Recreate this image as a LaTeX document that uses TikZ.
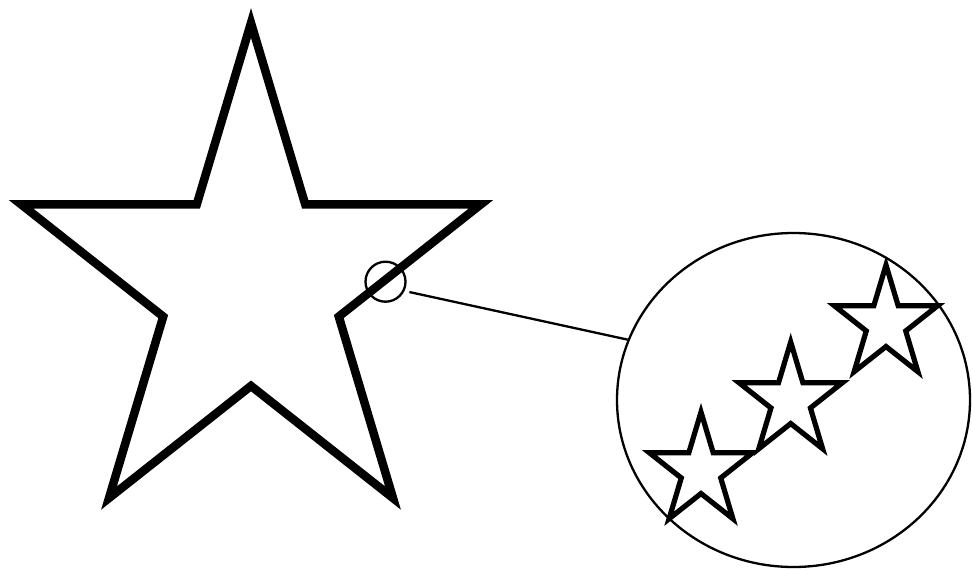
\documentclass[tikz,border=0pt]{standalone}
\usetikzlibrary{shapes.geometric}
\newcommand\drawmystar[4]{%
  \pgfmathsetmacro\rr{0.382*#3}%
  \begin{scope}[shift={(#1,#2)}, xscale=0.92]
    \draw[starline, line width=#4]
      (270:#3) -- (306:\rr) -- (342:#3) -- (18:\rr) -- (54:#3) -- (90:\rr)
      -- (126:#3) -- (162:\rr) -- (198:#3) -- (234:\rr) -- cycle;
  \end{scope}}
\begin{document}
\begin{tikzpicture}[x=1pt, y=-1pt,
  starline/.style={draw=black, line join=miter, miter limit=10},
  thinline/.style={draw=black, line width=2.3pt}]
  \useasboundingbox (0,0) rectangle (972,570);
  \fill[white] (0,0) rectangle (972,570);
  % big star
  \drawmystar{251}{285.6}{262.6}{8.5pt}
  % magnified circle region
  \node[circle, thinline, minimum size=40pt, inner sep=0pt] (zoomc) at (385.5,281.7) {};
  \node[ellipse, thinline, minimum width=353pt, minimum height=334pt, inner sep=0pt] (lens) at (793.5,400) {};
  \draw[thinline, shorten <=5pt] (zoomc.-26) -- (lens.160);
  % small stars
  \drawmystar{701}{471}{59}{5.2pt}
  \drawmystar{790.7}{401}{59}{5.2pt}
  \drawmystar{886}{324}{59}{5.2pt}
\end{tikzpicture}
\end{document}
